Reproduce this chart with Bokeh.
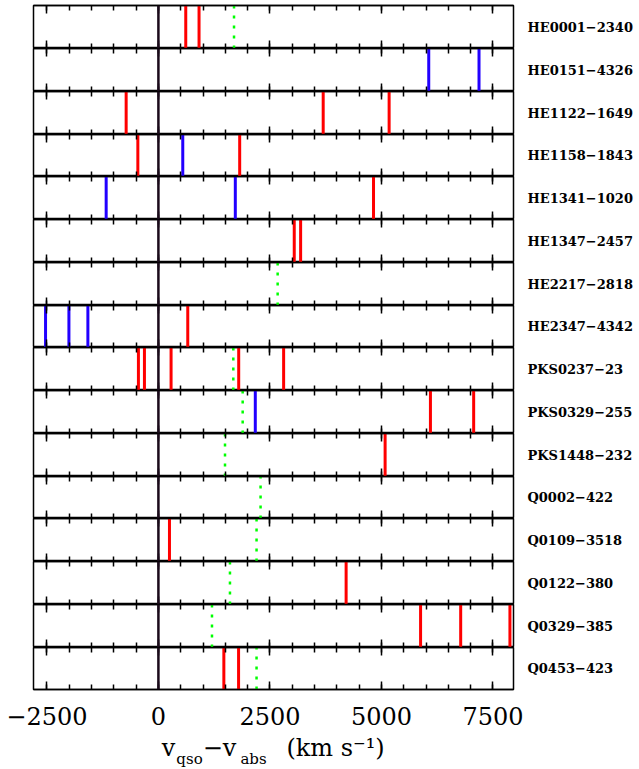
from bokeh.plotting import figure
from bokeh.layouts import column
from bokeh.models import (Range1d, LinearAxis, FixedTicker, Span, ColumnDataSource,
                          CustomLabelingPolicy)
from bokeh.core.properties import value
from bokeh.embed import file_html
from bokeh.resources import INLINE

# ---------------- data ----------------
names = ["HE0001\u22122340", "HE0151\u22124326", "HE1122\u22121649", "HE1158\u22121843",
         "HE1341\u22121020", "HE1347\u22122457", "HE2217\u22122818", "HE2347\u22124342",
         "PKS0237\u221223", "PKS0329\u2212255", "PKS1448\u2212232", "Q0002\u2212422",
         "Q0109\u22123518", "Q0122\u2212380", "Q0329\u2212385", "Q0453\u2212423"]

red_vel = [[613, 911], [], [-723, 3694, 5172], [-461, 1822],
           [4822], [3045, 3188], [], [658],
           [-448, -313, 284, 1800, 2807], [6098, 7067], [5082], [],
           [248], [4208], [5877, 6776, 7880], [1467, 1797]]

blue_vel = [[], [6060, 7187], [], [546],
            [-1171, 1724], [], [], [-2530, -2006, -1581],
            [], [2172], [], [],
            [], [], [], []]

green_vel = [1695, None, None, None,
             None, None, 2673, None,
             1679, 1889, 1493, 2290,
             2200, 1604, 1201, 2200]

major_ticks = [-2500, 0, 2500, 5000, 7500]
major_labels = ["\u22122500", "0", "2500", "5000", "7500"]
minor_ticks = list(range(-2500, 8001, 500))
x_lo, x_hi = -2800, 7960

# x-axis title pieces (text, anchor in km/s)
title_main = ["v", "\u2212v", "(km s\u207b\u00b9)"]
title_main_x = [226, 1370, 3970]
title_sub = ["qso", "abs"]
title_sub_x = [697, 2132]

# ---------------- layout ----------------
n = len(names)
frame_h = [43, 43, 43, 42] * 4
xr = Range1d(x_lo, x_hi)
FONT = "DejaVu Serif"
hide_all = CustomLabelingPolicy(code="for (const i of indices) indices.unset(i); return indices")

figs = []
for i in range(n):
    last = (i == n - 1)
    p = figure(frame_width=480, frame_height=frame_h[i], x_range=xr, y_range=Range1d(0, 1),
               output_backend="svg", toolbar_location=None,
               x_axis_location=None, y_axis_location=None,
               min_border_left=33, min_border_right=0,
               min_border_top=(5 if i == 0 else 0),
               min_border_bottom=(44 if last else 0),
               outline_line_color="black", outline_line_width=1.5,
               background_fill_color="white", border_fill_color="white")
    p.xgrid.visible = False
    p.ygrid.visible = False
    for loc in ("above", "below"):
        ax = LinearAxis(ticker=FixedTicker(ticks=major_ticks, minor_ticks=minor_ticks),
                        major_tick_in=8, major_tick_out=0,
                        minor_tick_in=5, minor_tick_out=0,
                        major_tick_line_color="black", minor_tick_line_color="black",
                        major_tick_line_width=1.5, minor_tick_line_width=1.5,
                        axis_line_color="black", axis_line_width=1.5,
                        major_label_standoff=0, major_label_text_font_size="0px",
                        major_label_policy=hide_all)
        if last and loc == "below":
            ax.major_label_policy = CustomLabelingPolicy(code="return indices")
            ax.major_label_text_font_size = "24px"
            ax.major_label_text_font = FONT
            ax.major_label_text_color = "black"
            ax.major_label_standoff = 17
            ax.major_label_overrides = {t: l for t, l in zip(major_ticks, major_labels)}
        p.add_layout(ax, loc)

    # quasar name as the single label of a right-hand axis
    ry = LinearAxis(ticker=FixedTicker(ticks=[0.5], minor_ticks=[]),
                    major_label_overrides={0.5: names[i]},
                    major_tick_in=0, major_tick_out=0, axis_line_color=None,
                    major_label_standoff=14, major_label_text_font=FONT,
                    major_label_text_font_size="13px", major_label_text_font_style="bold",
                    major_label_text_color="black")
    p.add_layout(ry, "right")

    p.add_layout(Span(location=0, dimension="height", line_color="#1a0a1a", line_width=2.5))

    if green_vel[i] is not None:
        gs = ColumnDataSource(dict(x=[green_vel[i]]))
        p.segment(x0="x", y0=0, x1="x", y1=1, source=gs, line_color="#00ff00",
                  line_width=2.5, line_dash="3 7", line_cap="butt")
    rs = ColumnDataSource(dict(x=red_vel[i]))
    p.segment(x0="x", y0=0, x1="x", y1=1, source=rs, line_color="#ff0000", line_width=3)
    bs = ColumnDataSource(dict(x=blue_vel[i]))
    p.segment(x0="x", y0=0, x1="x", y1=1, source=bs, line_color="#2200ff", line_width=3)
    figs.append(p)

# x-axis title strip
t = figure(frame_width=480, frame_height=36, x_range=xr, y_range=Range1d(0, 1),
           output_backend="svg", toolbar_location=None,
           x_axis_location=None, y_axis_location=None,
           min_border_left=33, min_border_right=0, min_border_top=0, min_border_bottom=0,
           outline_line_color=None, background_fill_color="white", border_fill_color="white")
t.xgrid.visible = False
t.ygrid.visible = False
t.text(x=title_main_x, y=[0.6] * len(title_main), text=title_main,
       text_font=value(FONT), text_font_size=value("24px"),
       text_align="center", text_baseline="middle", text_color="black")
t.text(x=title_sub_x, y=[0.3] * len(title_sub), text=title_sub,
       text_font=value(FONT), text_font_size=value("15px"),
       text_align="center", text_baseline="middle", text_color="black")
figs.append(t)

layout = column(*figs, spacing=0)
open("out.html", "w").write(file_html(layout, INLINE))
